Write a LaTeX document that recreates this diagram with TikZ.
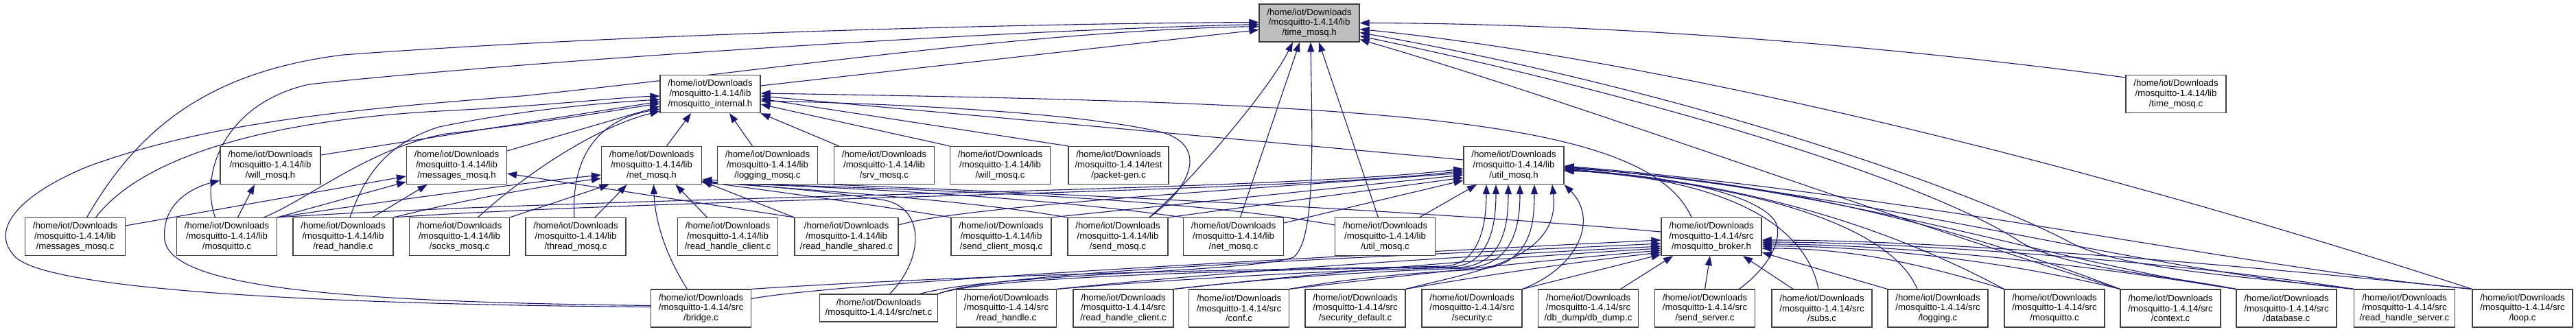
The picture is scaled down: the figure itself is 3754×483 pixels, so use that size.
\documentclass[tikz,border=0pt]{standalone}
\usepackage{fontspec}
\setmainfont{Liberation Sans}
\usetikzlibrary{arrows.meta}
\definecolor{edgec}{HTML}{191970}
\definecolor{boxc}{HTML}{404040}
\definecolor{selfill}{HTML}{BFBFBF}
\pgfdeclarelayer{edgelayer}
\pgfsetlayers{edgelayer,main}
\newcommand{\nodefont}{\fontsize{13.2pt}{14.7pt}\selectfont}
\newcommand{\libf}[1]{/home/iot/Downloads\\/mosquitto-1.4.14/lib\\/#1}
\newcommand{\srcf}[1]{/home/iot/Downloads\\/mosquitto-1.4.14/src\\/#1}
\tikzset{
  box/.style={draw=boxc, line width=1.2pt, fill=white, minimum width=146pt, minimum height=55pt,
    inner xsep=8pt, inner ysep=0pt, align=center, font=\nodefont, text=black},
  sel/.style={box, fill=selfill},
  e/.style={draw=edgec, line width=1.1pt, -{Triangle[length=14pt,width=10pt]}},
}
\begin{document}
\begin{tikzpicture}[x=1pt,y=-1pt]
\useasboundingbox (0,0) rectangle (3754,483);
% row 0 / 1
\node[sel] (tmh) at (1908,33.5) {\libf{time\_mosq.h}};
\node[box] (mih) at (1035,137) {\libf{mosquitto\_internal.h}};
\node[box] (tmc) at (3171,137) {\libf{time\_mosq.c}};
% row 2
\node[box] (wmh) at (394,241) {\libf{will\_mosq.h}};
\node[box] (mmh) at (665.5,241) {\libf{messages\_mosq.h}};
\node[box] (nmh) at (949.5,241) {\libf{net\_mosq.h}};
\node[box] (lmc) at (1118.5,241) {\libf{logging\_mosq.c}};
\node[box] (smc) at (1288.5,241) {\libf{srv\_mosq.c}};
\node[box] (wmc) at (1457.5,241) {\libf{will\_mosq.c}};
\node[box] (pgc) at (1630,241) {/home/iot/Downloads\\/mosquitto-1.4.14/test\\/packet-gen.c};
\node[box] (umh) at (2206,241) {\libf{util\_mosq.h}};
% row 3
\node[box] (mmc) at (109.5,345) {\libf{messages\_mosq.c}};
\node[box] (moc) at (330.5,345) {\libf{mosquitto.c}};
\node[box] (rhc3) at (500,345) {\libf{read\_handle.c}};
\node[box] (soc) at (669.5,345) {\libf{socks\_mosq.c}};
\node[box] (thc) at (839,345) {\libf{thread\_mosq.c}};
\node[box] (rhcl) at (1060.5,345) {\libf{read\_handle\_client.c}};
\node[box] (rhsh) at (1233.5,345) {\libf{read\_handle\_shared.c}};
\node[box] (scm) at (1459,345) {\libf{send\_client\_mosq.c}};
\node[box] (sdm) at (1629,345) {\libf{send\_mosq.c}};
\node[box] (nmc) at (1797.5,345) {\libf{net\_mosq.c}};
\node[box] (umc) at (2018.5,345) {\libf{util\_mosq.c}};
\node[box] (mbh) at (2494,345) {\srcf{mosquitto\_broker.h}};
% row 4
\node[box] (brc) at (1021.5,449.5) {\srcf{bridge.c}};
\node[box, minimum height=40pt] (netc) at (1280.5,449) {/home/iot/Downloads\\/mosquitto-1.4.14/src/net.c};
\node[box] (rhs4) at (1466.5,449.5) {\srcf{read\_handle.c}};
\node[box] (rhcl4) at (1637,449.5) {\srcf{read\_handle\_client.c}};
\node[box] (conf) at (1805.5,449.5) {\srcf{conf.c}};
\node[box] (secd) at (1975,449.5) {\srcf{security\_default.c}};
\node[box] (sec) at (2145,449.5) {\srcf{security.c}};
\node[box] (dbd) at (2314.5,449.5) {\srcf{db\_dump/db\_dump.c}};
\node[box] (ssv) at (2484.5,449.5) {\srcf{send\_server.c}};
\node[box] (subs) at (2655,449.5) {\srcf{subs.c}};
\node[box] (logc) at (2824,449.5) {\srcf{logging.c}};
\node[box] (mosc) at (2994,449.5) {\srcf{mosquitto.c}};
\node[box] (ctx) at (3163,449.5) {\srcf{context.c}};
\node[box] (dbc) at (3332,449.5) {\srcf{database.c}};
\node[box] (rhsv) at (3504,449.5) {\srcf{read\_handle\_server.c}};
\node[box] (loop) at (3676,449.5) {\srcf{loop.c}};

\begin{pgfonlayer}{edgelayer}
\fill[white] (0,0) rectangle (3754,483);
% ---- into time_mosq.h
\draw[e] ([yshift=12pt]mih.east) -- ([yshift=-10pt]tmh.west);
\draw[e] ([yshift=24pt]tmc.west) .. controls (2700,60) and (2300,34) .. (tmh.east);
\draw[e] ([xshift=17pt]mmc.north) .. controls (200,190) and (300,105) .. (500,80) .. controls (900,50) and (1500,34) .. ([yshift=1pt]tmh.west);
\draw[e] ([xshift=-17pt]moc.north) .. controls (290,250) and (330,150) .. (450,123) .. controls (700,95) and (1400,46) .. ([yshift=-2pt]tmh.west);
\draw[e] ([yshift=2pt]brc.west) .. controls (500,444) and (60,425) .. (20,372) .. controls (-18,330) and (40,278) .. (130,242) .. controls (300,180) and (500,160) .. (760,140) .. controls (1100,105) and (1500,45) .. ([yshift=-5pt]tmh.west);
\draw[e] ([xshift=60pt]netc.north) .. controls (1450,398) and (1820,398) .. (1885,375) .. controls (1918,350) and (1912,200) .. ([xshift=2pt]tmh.south);
\draw[e] ([xshift=46pt]sdm.north) .. controls (1740,260) and (1850,130) .. ([xshift=-24pt]tmh.south);
\draw[e] ([xshift=10pt]nmc.north) -- ([xshift=-14pt]tmh.south);
\draw[e] ([xshift=-10pt]umc.north) -- ([xshift=14pt]tmh.south);
\draw[e] (loop.north west) .. controls (3000,225) and (2400,85) .. ([yshift=-9pt]tmh.east);
\draw[e] (rhsv.north west) .. controls (3300,405) and (3100,395) .. (3020,355) .. controls (2900,290) and (2500,140) .. ([yshift=-14pt]tmh.east);
\draw[e] (dbc.north west) .. controls (3150,400) and (3000,390) .. (2940,350) .. controls (2800,260) and (2400,140) .. ([yshift=-19pt]tmh.east);
\draw[e] (ctx.north west) .. controls (2700,300) and (2300,150) .. ([yshift=-24pt]tmh.east);
% ---- into mosquitto_internal.h
\draw[e] ([yshift=15pt]wmh.east) -- ([yshift=-11pt]mih.west);
\draw[e] ([yshift=21pt]mmh.east) -- ([yshift=-18pt]mih.west);
\draw[e] ([xshift=22pt]nmh.north) -- ([xshift=-28pt]mih.south);
\draw[e] ([xshift=-22pt]lmc.north) -- ([xshift=28pt]mih.south);
\draw[e] ([xshift=-66pt]smc.north) -- (mih.south east);
\draw[e] (wmc.north west) -- ([yshift=-15pt]mih.east);
\draw[e] (pgc.north west) -- ([yshift=-7pt]mih.east);
\draw[e] ([yshift=8pt]umh.west) -- ([yshift=-3pt]mih.east);
\draw[e] ([xshift=-29pt]mbh.north) .. controls (2400,170) and (2000,150) .. ([yshift=1pt]mih.east);
\draw[e] ([xshift=30pt]mmc.north) .. controls (210,225) and (400,175) .. (640,162) .. controls (800,154) and (900,142) .. ([yshift=-3pt]mih.west);
\draw[e] ([xshift=54pt]moc.north) .. controls (450,290) and (540,215) .. (650,195) .. controls (800,178) and (900,160) .. ([yshift=-14pt]mih.west);
\draw[e] ([xshift=10pt]rhc3.north) .. controls (530,260) and (560,210) .. (640,185) .. controls (760,160) and (880,150) .. ([yshift=-8pt]mih.west);
\draw[e] ([xshift=27pt]soc.north) .. controls (770,250) and (870,185) .. ([yshift=-25pt]mih.west);
\draw[e] ([xshift=-2pt]thc.north) .. controls (832,230) and (870,175) .. ([yshift=-22pt]mih.west);
\draw[e] ([xshift=46pt]sdm.north) .. controls (1740,270) and (1760,210) .. (1690,192) .. controls (1550,160) and (1250,150) .. ([yshift=-10pt]mih.east);
% ---- into net_mosq.h
\draw[e] (moc.north east) .. controls (550,295) and (750,268) .. ([yshift=-14pt]nmh.west);
\draw[e] (rhc3.north east) .. controls (680,290) and (800,270) .. ([yshift=-19pt]nmh.west);
\draw[e] (soc.north east) -- ([xshift=-62pt]nmh.south);
\draw[e] ([xshift=28pt]thc.north) -- ([xshift=-36pt]nmh.south);
\draw[e] ([xshift=-20pt]brc.north) .. controls (975,380) and (955,330) .. ([xshift=3pt]nmh.south);
\draw[e] ([xshift=-30pt]rhcl.north) -- ([xshift=35pt]nmh.south);
\draw[e] (rhsh.north west) -- ([yshift=-23pt]nmh.east);
\draw[e] (scm.north west) .. controls (1250,295) and (1100,275) .. ([yshift=-24pt]nmh.east);
\draw[e] (sdm.north west) .. controls (1400,290) and (1150,275) .. ([yshift=-24pt]nmh.east);
\draw[e] (nmc.north west) .. controls (1500,285) and (1200,272) .. ([yshift=-25pt]nmh.east);
\draw[e] ([yshift=17pt]umc.west) .. controls (1700,285) and (1300,275) .. ([yshift=-25pt]nmh.east);
\draw[e] ([xshift=16pt]netc.north) .. controls (1345,380) and (1350,305) .. (1290,292) .. controls (1200,278) and (1100,270) .. ([yshift=-23pt]nmh.east);
\draw[e] ([yshift=7pt]mbh.west) .. controls (2000,300) and (1300,272) .. ([yshift=-21pt]nmh.east);
% ---- into messages_mosq.h
\draw[e] ([yshift=16pt]mmc.east) -- ([yshift=-16pt]mmh.west);
\draw[e] (moc.north east) -- ([yshift=-24pt]mmh.west);
\draw[e] ([xshift=43pt]rhc3.north) -- ([xshift=-43pt]mmh.south);
\draw[e] (rhsh.north west) -- ([yshift=-12pt]mmh.east);
% ---- into will_mosq.h
\draw[e] ([xshift=16pt]moc.north) -- ([xshift=-23pt]wmh.south);
\draw[e] ([yshift=4pt]brc.west) .. controls (500,440) and (250,420) .. (240,350) .. controls (235,300) and (275,275) .. ([yshift=-22pt]wmh.west);
% ---- into util_mosq.h (left and below)
\draw[e] (moc.north east) .. controls (900,285) and (1850,280) .. ([yshift=-5pt]umh.west);
\draw[e] (rhc3.north east) .. controls (1000,288) and (1850,282) .. ([yshift=-8pt]umh.west);
\draw[e] ([yshift=17pt]rhsh.east) .. controls (1400,300) and (1900,270) .. ([yshift=-11pt]umh.west);
\draw[e] (scm.north east) -- ([yshift=-14pt]umh.west);
\draw[e] (sdm.north east) -- ([yshift=-18pt]umh.west);
\draw[e] ([yshift=20pt]nmc.east) -- ([yshift=-22pt]umh.west);
\draw[e] ([xshift=50pt]umc.north) -- ([xshift=-54pt]umh.south);
\draw[e] (brc.north east) .. controls (1500,395) and (1950,392) .. (2105,388) .. controls (2155,386) and (2166,330) .. ([xshift=-40pt]umh.south);
\draw[e] (netc.north east) .. controls (1450,398) and (1980,392) .. (2115,389) .. controls (2170,387) and (2180,330) .. ([xshift=-26pt]umh.south);
\draw[e] (rhs4.north east) .. controls (1800,400) and (2000,393) .. (2125,390) .. controls (2190,387) and (2198,330) .. ([xshift=-8pt]umh.south);
\draw[e] (rhcl4.north east) .. controls (1900,400) and (2050,394) .. (2135,391) .. controls (2205,388) and (2215,330) .. ([xshift=9pt]umh.south);
\draw[e] (conf.north east) .. controls (2000,400) and (2100,396) .. (2150,393) .. controls (2230,388) and (2236,330) .. ([xshift=30pt]umh.south);
\draw[e] (secd.north east) .. controls (2150,395) and (2275,380) .. ([xshift=56pt]umh.south);
\draw[e] (sec.north east) .. controls (2300,390) and (2330,320) .. (umh.south east);
% ---- into util_mosq.h (right)
\draw[e] ([xshift=50pt]ssv.north) .. controls (2570,395) and (2595,360) .. (2590,330) .. controls (2580,290) and (2450,255) .. ([yshift=-8pt]umh.east);
\draw[e] ([xshift=-5pt]subs.north) .. controls (2630,320) and (2500,260) .. ([yshift=-7pt]umh.east);
\draw[e] ([xshift=-30pt]logc.north) .. controls (2760,340) and (2600,275) .. ([yshift=-6pt]umh.east);
\draw[e] (mosc.north west) .. controls (2750,330) and (2550,268) .. ([yshift=-5pt]umh.east);
\draw[e] (ctx.north west) .. controls (2850,330) and (2600,265) .. ([yshift=-4pt]umh.east);
\draw[e] (dbc.north west) .. controls (3000,385) and (2700,275) .. ([yshift=-3pt]umh.east);
\draw[e] (rhsv.north west) .. controls (3100,390) and (2750,285) .. ([yshift=-2pt]umh.east);
\draw[e] (loop.north west) .. controls (3300,395) and (2800,285) .. ([yshift=-1pt]umh.east);
% ---- into mosquitto_broker.h
\draw[e] ([yshift=14pt]brc.east) .. controls (1200,415) and (1800,380) .. ([yshift=-5pt]mbh.west);
\draw[e] (netc.north east) .. controls (1450,395) and (2000,375) .. ([yshift=-10pt]mbh.west);
\draw[e] (rhs4.north east) .. controls (1800,395) and (2100,375) .. ([yshift=-14pt]mbh.west);
\draw[e] (rhcl4.north east) .. controls (1950,395) and (2200,375) .. ([yshift=-17pt]mbh.west);
\draw[e] (conf.north east) .. controls (2100,395) and (2300,375) .. ([yshift=-20pt]mbh.west);
\draw[e] (secd.north east) .. controls (2200,395) and (2330,378) .. ([yshift=-23pt]mbh.west);
\draw[e] (sec.north east) -- ([yshift=-26pt]mbh.west);
\draw[e] ([xshift=47pt]dbd.north) -- ([xshift=-56pt]mbh.south);
\draw[e] (ssv.north) -- ([xshift=-2pt]mbh.south);
\draw[e] ([xshift=-42pt]subs.north) -- ([xshift=46pt]mbh.south);
\draw[e] (logc.north west) -- ([yshift=-23pt]mbh.east);
\draw[e] (mosc.north west) .. controls (2800,385) and (2700,362) .. ([yshift=-17pt]mbh.east);
\draw[e] (ctx.north west) .. controls (2900,375) and (2700,358) .. ([yshift=-14pt]mbh.east);
\draw[e] (dbc.north west) .. controls (3000,380) and (2750,356) .. ([yshift=-11pt]mbh.east);
\draw[e] (rhsv.north west) .. controls (3200,385) and (2800,353) .. ([yshift=-8pt]mbh.east);
\draw[e] (loop.north west) .. controls (3300,390) and (2850,350) .. ([yshift=-5pt]mbh.east);
\end{pgfonlayer}
\end{tikzpicture}
\end{document}
